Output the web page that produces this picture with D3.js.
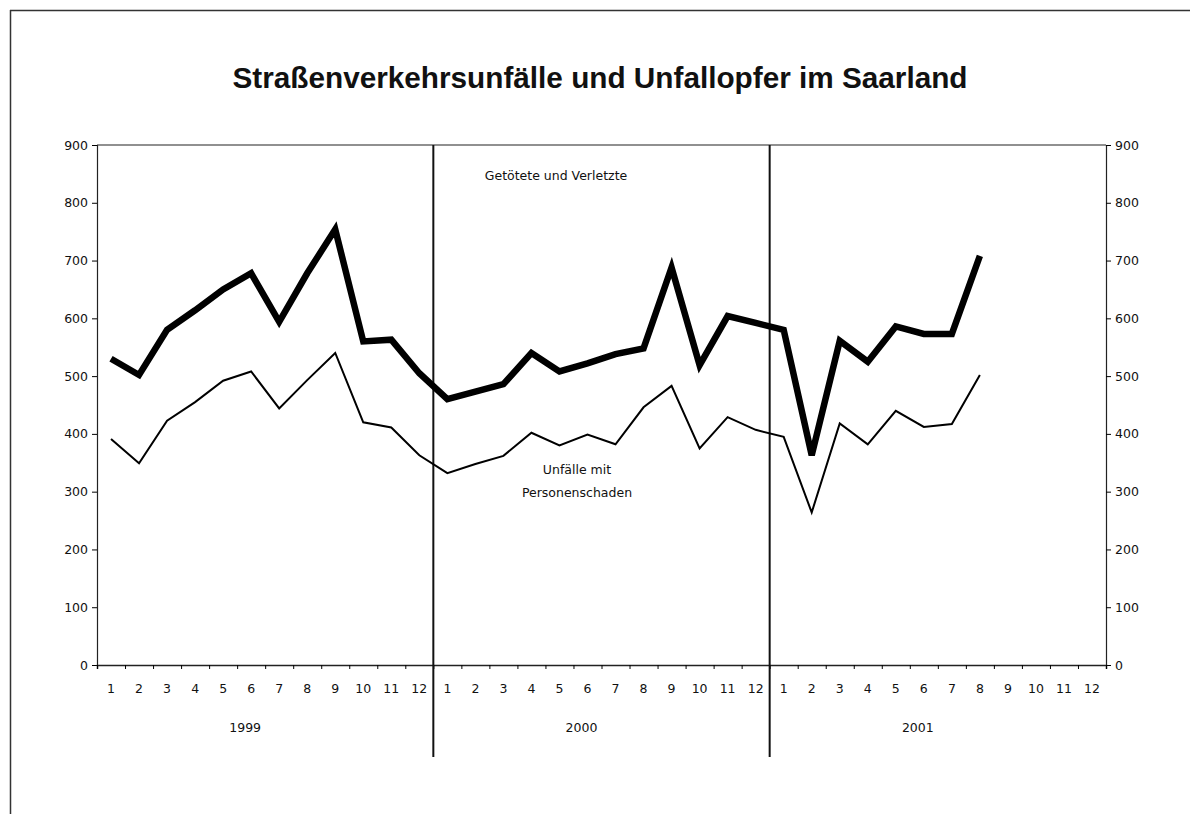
<!DOCTYPE html>
<html>
<head>
<meta charset="utf-8">
<script src="https://cdn.jsdelivr.net/npm/d3@7"></script>
<style>
  body { margin: 0; background: #fff; }
  text { font-family: "DejaVu Sans", sans-serif; fill: #111; }
</style>
</head>
<body>
<svg id="chart" width="1190" height="814"></svg>
<script>
// data
const years = ['1999', '2000', '2001']
const months = ['1', '2', '3', '4', '5', '6', '7', '8', '9', '10', '11', '12']

// Getötete und Verletzte (thick line)
const verletzte = [
  530, 502, 580, 614, 650, 678, 594, 678, 754, 560, 563, 505,
  460, 473, 486, 540, 508, 522, 538, 548, 688, 519, 604, 592,
  580, 363, 561, 525, 586, 573, 573, 708
]

// Unfälle mit Personenschaden (thin line)
const unfaelle = [
  391, 349, 423, 455, 492, 508, 444, 493, 540, 420, 411, 363,
  332, 348, 362, 402, 380, 399, 382, 446, 483, 375, 429, 407,
  395, 264, 418, 382, 440, 412, 417, 502
]

const yTicks = [0, 100, 200, 300, 400, 500, 600, 700, 800, 900]

const svg = d3.select('#chart')
const plotLeft = 97, plotRight = 1106, plotTop = 145, plotBottom = 665

// slots: one per month over all three years
const slots = []
years.forEach(yr => months.forEach(m => slots.push(yr + '-' + m)))

const x = d3.scaleBand().domain(slots).range([plotLeft, plotRight])
const xEdge = d3.scaleLinear().domain([0, slots.length]).range([plotLeft, plotRight])
const y = d3.scaleLinear().domain([0, 900]).range([plotBottom, plotTop])

// page frame (top + left only, like the scan)
svg.append('line').attr('x1', 10).attr('x2', 1190).attr('y1', 10.5).attr('y2', 10.5)
  .style('stroke', '#333').style('stroke-width', 1.5)
svg.append('line').attr('x1', 10.5).attr('x2', 10.5).attr('y1', 10).attr('y2', 814)
  .style('stroke', '#333').style('stroke-width', 1.5)

svg.append('text')
  .attr('x', 600)
  .attr('y', 88)
  .attr('text-anchor', 'middle')
  .attr('textLength', 735)
  .attr('lengthAdjust', 'spacingAndGlyphs')
  .style('font-family', '"Liberation Sans", Arial, sans-serif')
  .style('font-weight', 'bold')
  .style('font-size', '29px')
  .text('Straßenverkehrsunfälle und Unfallopfer im Saarland')

// plot frame top line
svg.append('line').attr('x1', plotLeft).attr('x2', plotRight).attr('y1', plotTop).attr('y2', plotTop)
  .style('stroke', '#222').style('stroke-width', 1.2)

// left axis
const yLeft = svg.append('g')
  .attr('transform', 'translate(' + plotLeft + ',0)')
  .call(d3.axisLeft(y).tickValues(yTicks).tickSize(5).tickPadding(4))
yLeft.select('.domain').style('stroke', '#222').style('stroke-width', 1.2)

// right axis
const yRight = svg.append('g')
  .attr('transform', 'translate(' + plotRight + ',0)')
  .call(d3.axisRight(y).tickValues(yTicks).tickSize(5).tickPadding(4))
yRight.select('.domain').style('stroke', '#222').style('stroke-width', 1.2)

svg.selectAll('.tick text').style('font-size', '12.5px')

// x axis: boundary ticks
const xTickAxis = svg.append('g')
  .attr('transform', 'translate(0,' + plotBottom + ')')
  .call(d3.axisBottom(xEdge).tickValues(d3.range(0, slots.length + 1)).tickSize(4).tickFormat(''))
xTickAxis.select('.domain').style('stroke', '#222').style('stroke-width', 1.5)

// month labels
const xLabels = svg.append('g')
  .attr('transform', 'translate(0,' + plotBottom + ')')
  .call(d3.axisBottom(x).tickSize(0).tickPadding(19).tickFormat(d => d.split('-')[1]))
xLabels.select('.domain').remove()
xLabels.selectAll('text').style('font-size', '12.5px')

// year labels
svg.append('g')
  .selectAll()
  .data(years)
  .enter()
  .append('text')
  .attr('x', (d, i) => xEdge(i * 12 + 6) - 20)
  .attr('y', 732)
  .attr('text-anchor', 'middle')
  .style('font-size', '12.5px')
  .text(d => d)

// year separators
svg.append('g')
  .selectAll()
  .data([12, 24])
  .enter()
  .append('line')
  .attr('x1', d => xEdge(d))
  .attr('x2', d => xEdge(d))
  .attr('y1', plotTop)
  .attr('y2', 757)
  .style('stroke', '#111')
  .style('stroke-width', 2)

const line = d3.line()
  .x((d, i) => x(slots[i]) + x.bandwidth() / 2)
  .y(d => y(d))

svg.append('path')
  .datum(unfaelle)
  .attr('d', line)
  .style('fill', 'none')
  .style('stroke', '#000')
  .style('stroke-width', 2)
  .style('stroke-linejoin', 'miter')

svg.append('path')
  .datum(verletzte)
  .attr('d', line)
  .style('fill', 'none')
  .style('stroke', '#000')
  .style('stroke-width', 6.5)
  .style('stroke-linejoin', 'miter')

// series labels
svg.append('text')
  .attr('x', 556)
  .attr('y', 180)
  .attr('text-anchor', 'middle')
  .style('font-size', '12.5px')
  .text('Getötete und Verletzte')

svg.append('text')
  .attr('x', 577)
  .attr('y', 474)
  .attr('text-anchor', 'middle')
  .style('font-size', '12.5px')
  .text('Unfälle mit')

svg.append('text')
  .attr('x', 577)
  .attr('y', 497)
  .attr('text-anchor', 'middle')
  .style('font-size', '12.5px')
  .text('Personenschaden')
</script>
</body>
</html>
